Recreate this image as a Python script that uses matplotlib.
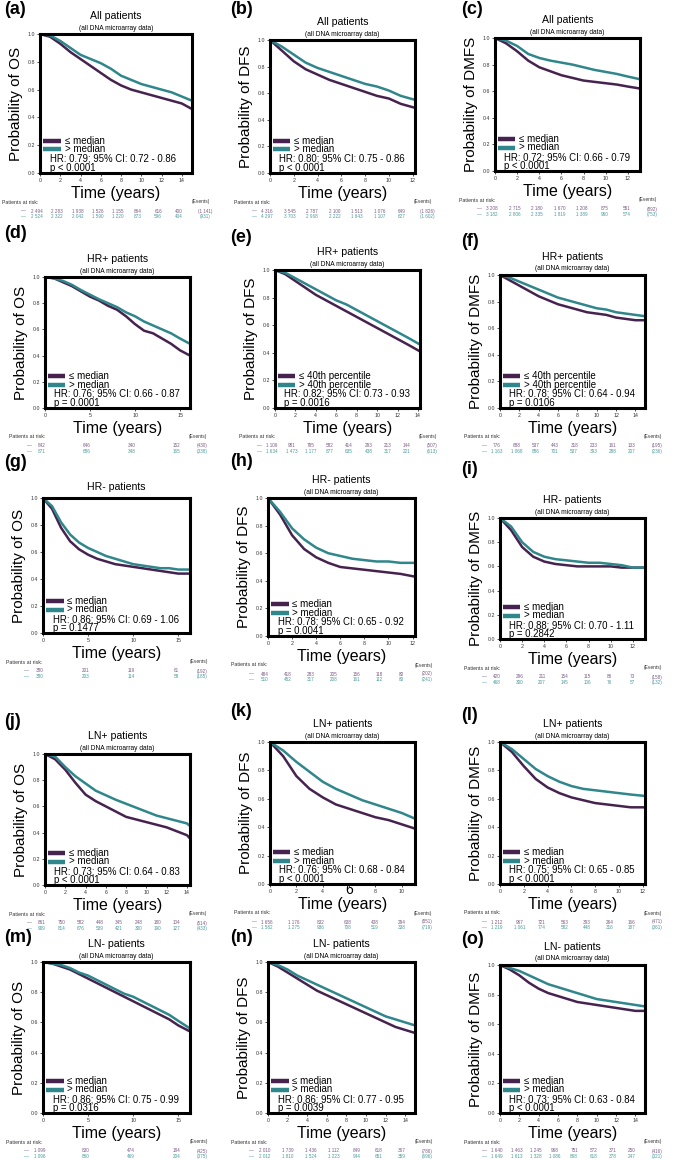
import matplotlib
matplotlib.use('Agg')
import matplotlib.pyplot as plt

plt.rcParams['font.family'] = ['Liberation Sans', 'DejaVu Sans']

LOW_C = '#46234f'
HIGH_C = '#2f878b'
LOW_TXT = '#7b5b86'
HIGH_TXT = '#4b9a9d'

W, H = 685, 1160

MEDIAN = ['\u2264 median', '> median']
PCT40 = ['\u2264 40th percentile', '> 40th percentile']

# ---- survival values read per year (t in years) ----
a_t = [0, 1, 2, 3, 4, 5, 6, 7, 8, 9, 10, 11, 12, 13, 14, 15]
a_low = [1.0, 0.98, 0.93, 0.87, 0.82, 0.77, 0.72, 0.67, 0.63, 0.60, 0.58, 0.56, 0.54, 0.52, 0.50, 0.46]
a_high = [1.0, 0.99, 0.95, 0.90, 0.85, 0.82, 0.79, 0.75, 0.70, 0.67, 0.64, 0.62, 0.60, 0.58, 0.55, 0.52]

b_t = [0, 1, 2, 3, 4, 5, 6, 7, 8, 9, 10, 11, 12.2]
b_low = [1.0, 0.92, 0.84, 0.78, 0.74, 0.70, 0.67, 0.64, 0.61, 0.58, 0.56, 0.52, 0.49]
b_high = [1.0, 0.95, 0.89, 0.83, 0.79, 0.76, 0.73, 0.70, 0.67, 0.65, 0.62, 0.58, 0.55]

c_t = [0, 1, 2, 3, 4, 5, 6, 7, 8, 9, 10, 11, 12, 13.1]
c_low = [1.0, 0.96, 0.90, 0.83, 0.78, 0.75, 0.72, 0.70, 0.68, 0.67, 0.66, 0.65, 0.635, 0.62]
c_high = [1.0, 0.98, 0.94, 0.88, 0.85, 0.83, 0.815, 0.80, 0.78, 0.76, 0.745, 0.73, 0.71, 0.69]

d_t = [0, 1, 2, 3, 4, 5, 6, 7, 8, 9, 10, 11, 12, 13, 14, 15, 16.1]
d_low = [1.0, 0.99, 0.96, 0.93, 0.89, 0.85, 0.82, 0.78, 0.75, 0.70, 0.64, 0.59, 0.57, 0.53, 0.49, 0.44, 0.40]
d_high = [1.0, 0.99, 0.97, 0.94, 0.90, 0.865, 0.83, 0.80, 0.77, 0.73, 0.70, 0.66, 0.63, 0.60, 0.57, 0.53, 0.49]

e_t = [0, 1, 2, 3, 4, 5, 6, 7, 8, 9, 10, 11, 12, 13, 14.2]
e_low = [1.0, 0.97, 0.92, 0.87, 0.82, 0.78, 0.74, 0.70, 0.66, 0.62, 0.58, 0.54, 0.50, 0.46, 0.41]
e_high = [1.0, 0.98, 0.94, 0.90, 0.86, 0.82, 0.78, 0.75, 0.71, 0.67, 0.63, 0.59, 0.55, 0.51, 0.46]

f_t = [0, 1, 2, 3, 4, 5, 6, 7, 8, 9, 10, 11, 12, 13, 14, 15]
f_low = [1.0, 0.96, 0.92, 0.88, 0.84, 0.81, 0.78, 0.76, 0.74, 0.72, 0.71, 0.70, 0.68, 0.67, 0.66, 0.66]
f_high = [1.0, 0.98, 0.95, 0.92, 0.89, 0.86, 0.83, 0.81, 0.79, 0.77, 0.75, 0.74, 0.72, 0.71, 0.70, 0.69]

g_t = [0, 1, 2, 3, 4, 5, 6, 7, 8, 9, 10, 11, 12, 13, 14, 15, 16.3]
g_low = [1.0, 0.92, 0.78, 0.68, 0.62, 0.58, 0.55, 0.53, 0.51, 0.50, 0.49, 0.48, 0.47, 0.46, 0.45, 0.44, 0.44]
g_high = [1.0, 0.94, 0.82, 0.73, 0.67, 0.63, 0.60, 0.57, 0.55, 0.53, 0.51, 0.50, 0.49, 0.48, 0.48, 0.47, 0.47]

h_t = [0, 1, 2, 3, 4, 5, 6, 7, 8, 9, 10, 11, 12.2]
h_low = [1.0, 0.88, 0.73, 0.63, 0.57, 0.53, 0.50, 0.49, 0.48, 0.47, 0.46, 0.45, 0.43]
h_high = [1.0, 0.90, 0.78, 0.70, 0.64, 0.60, 0.58, 0.56, 0.55, 0.54, 0.54, 0.53, 0.53]

i_t = [0, 1, 2, 3, 4, 5, 6, 7, 8, 9, 10, 11, 12, 13.1]
i_low = [1.0, 0.90, 0.76, 0.68, 0.64, 0.62, 0.61, 0.60, 0.60, 0.60, 0.60, 0.59, 0.59, 0.59]
i_high = [1.0, 0.93, 0.80, 0.72, 0.68, 0.66, 0.65, 0.64, 0.63, 0.63, 0.62, 0.61, 0.59, 0.59]

j_t = [0, 1, 2, 3, 4, 5, 6, 7, 8, 9, 10, 11, 12, 13, 14, 14.3]
j_low = [1.0, 0.96, 0.88, 0.78, 0.69, 0.64, 0.60, 0.56, 0.52, 0.50, 0.48, 0.46, 0.44, 0.41, 0.38, 0.355]
j_high = [1.0, 0.98, 0.90, 0.83, 0.775, 0.72, 0.685, 0.65, 0.62, 0.59, 0.56, 0.53, 0.51, 0.49, 0.47, 0.45]

k_t = [0, 1, 2, 3, 4, 5, 6, 7, 8, 9, 10, 11]
k_low = [1.0, 0.90, 0.76, 0.67, 0.61, 0.56, 0.53, 0.50, 0.47, 0.45, 0.42, 0.39]
k_high = [1.0, 0.94, 0.86, 0.79, 0.72, 0.67, 0.63, 0.59, 0.56, 0.53, 0.50, 0.46]

l_t = [0, 1, 2, 3, 4, 5, 6, 7, 8, 9, 10, 11, 12.2]
l_low = [1.0, 0.93, 0.83, 0.74, 0.68, 0.64, 0.61, 0.59, 0.57, 0.56, 0.55, 0.54, 0.54]
l_high = [1.0, 0.95, 0.88, 0.81, 0.76, 0.72, 0.69, 0.67, 0.66, 0.65, 0.64, 0.63, 0.62]

m_t = [0, 1, 2, 3, 4, 5, 6, 7, 8, 9, 10, 11, 12, 13, 14, 15, 16.3]
m_low = [1.0, 0.99, 0.97, 0.95, 0.92, 0.89, 0.86, 0.83, 0.80, 0.77, 0.74, 0.71, 0.68, 0.65, 0.62, 0.58, 0.54]
m_high = [1.0, 0.99, 0.98, 0.96, 0.93, 0.91, 0.88, 0.85, 0.82, 0.79, 0.77, 0.74, 0.71, 0.68, 0.65, 0.61, 0.56]

n_t = [0, 1, 2, 3, 4, 5, 6, 7, 8, 9, 10, 11, 12, 13, 14, 15]
n_low = [1.0, 0.97, 0.93, 0.89, 0.85, 0.81, 0.78, 0.75, 0.72, 0.69, 0.66, 0.63, 0.60, 0.57, 0.55, 0.53]
n_high = [1.0, 0.98, 0.95, 0.91, 0.88, 0.85, 0.82, 0.79, 0.76, 0.73, 0.70, 0.67, 0.64, 0.62, 0.60, 0.58]

o_t = [0, 1, 2, 3, 4, 5, 6, 7, 8, 9, 10, 11, 12, 13, 14, 15]
o_low = [1.0, 0.97, 0.93, 0.88, 0.84, 0.81, 0.79, 0.77, 0.75, 0.74, 0.73, 0.72, 0.71, 0.70, 0.69, 0.69]
o_high = [1.0, 0.98, 0.96, 0.93, 0.90, 0.87, 0.85, 0.83, 0.81, 0.79, 0.77, 0.76, 0.75, 0.74, 0.73, 0.72]

# ---- patients at risk (low row, high row) and events ----
a_risk = [['2 494', '2 283', '1 938', '1 526', '1 155', '864', '616', '400'],
          ['2 524', '2 322', '2 042', '1 590', '1 220', '873', '596', '404']]
a_ev = ['(1 141)', '(931)']
b_risk = [['4 316', '3 545', '2 787', '2 100', '1 513', '1 076', '649'],
          ['4 297', '3 703', '2 968', '2 222', '1 643', '1 107', '627']]
b_ev = ['(1 826)', '(1 602)']
c_risk = [['3 208', '2 715', '2 180', '1 670', '1 208', '875', '551'],
          ['3 182', '2 806', '2 335', '1 819', '1 389', '960', '574']]
c_ev = ['(892)', '(753)']
d_risk = [['842', '646', '340', '152'], ['871', '686', '348', '165']]
d_ev = ['(430)', '(338)']
e_risk = [['1 109', '981', '795', '582', '414', '293', '213', '144'],
          ['1 634', '1 473', '1 177', '877', '635', '438', '317', '221']]
e_ev = ['(507)', '(613)']
f_risk = [['776', '688', '537', '443', '318', '233', '161', '133'],
          ['1 163', '1 068', '886', '701', '537', '393', '288', '207']]
f_ev = ['(195)', '(236)']
g_risk = [['380', '201', '119', '61'], ['380', '203', '114', '58']]
g_ev = ['(192)', '(185)']
h_risk = [['484', '418', '283', '205', '156', '118', '80'],
          ['510', '452', '317', '208', '161', '112', '80']]
h_ev = ['(202)', '(241)']
i_risk = [['420', '296', '211', '154', '115', '86', '73'],
          ['468', '300', '207', '145', '106', '76', '57']]
i_ev = ['(158)', '(132)']
j_risk = [['861', '750', '582', '448', '345', '248', '180', '104'],
          ['909', '814', '676', '539', '421', '300', '190', '127']]
j_ev = ['(514)', '(433)']
k_risk = [['1 656', '1 176', '832', '638', '438', '294'],
          ['1 582', '1 275', '936', '708', '519', '338']]
k_ev = ['(851)', '(719)']
l_risk = [['1 212', '967', '721', '563', '393', '264', '166'],
          ['1 219', '1 061', '774', '582', '448', '316', '187']]
l_ev = ['(471)', '(361)']
m_risk = [['1 099', '830', '474', '184'], ['1 096', '860', '469', '204']]
m_ev = ['(425)', '(375)']
n_risk = [['2 010', '1 739', '1 436', '1 112', '849', '618', '367'],
          ['2 012', '1 810', '1 524', '1 223', '944', '651', '359']]
n_ev = ['(786)', '(696)']
o_risk = [['1 640', '1 463', '1 245', '968', '751', '572', '371', '250'],
          ['1 649', '1 613', '1 328', '1 086', '868', '618', '378', '247']]
o_ev = ['(416)', '(321)']

stats = {
    'a': ('HR: 0.79; 95% CI: 0.72 - 0.86', 'p < 0.0001'),
    'b': ('HR: 0.80; 95% CI: 0.75 - 0.86', 'p < 0.0001'),
    'c': ('HR: 0.72; 95% CI: 0.66 - 0.79', 'p < 0.0001'),
    'd': ('HR: 0.76; 95% CI: 0.66 - 0.87', 'p = 0.0001'),
    'e': ('HR: 0.82; 95% CI: 0.73 - 0.93', 'p = 0.0016'),
    'f': ('HR: 0.78; 95% CI: 0.64 - 0.94', 'p = 0.0106'),
    'g': ('HR: 0.86; 95% CI: 0.69 - 1.06', 'p = 0.1477'),
    'h': ('HR: 0.78; 95% CI: 0.65 - 0.92', 'p = 0.0041'),
    'i': ('HR: 0.88; 95% CI: 0.70 - 1.11', 'p = 0.2842'),
    'j': ('HR: 0.73; 95% CI: 0.64 - 0.83', 'p < 0.0001'),
    'k': ('HR: 0.76; 95% CI: 0.68 - 0.84', 'p < 0.0001'),
    'l': ('HR: 0.75; 95% CI: 0.65 - 0.85', 'p < 0.0001'),
    'm': ('HR: 0.86; 95% CI: 0.75 - 0.99', 'p = 0.0316'),
    'n': ('HR: 0.86; 95% CI: 0.77 - 0.95', 'p = 0.0039'),
    'o': ('HR: 0.73; 95% CI: 0.63 - 0.84', 'p < 0.0001'),
}

ticks2 = [0, 2, 4, 6, 8, 10, 12, 14]
ticks5 = [0, 5, 10, 15]

# panel: key, title, subtitle, ylabel, box(l,t,r,b px), xmax, xticks, t, low, high, legend, risk, events, label(x,y)
panels = [
    ('a', 'All patients', True, 'OS', (40, 34, 192, 173), 15, ticks2, a_t, a_low, a_high, MEDIAN, a_risk, a_ev, (2, 10)),
    ('b', 'All patients', True, 'DFS', (270, 40, 415, 173), 12.2, ticks2[:7], b_t, b_low, b_high, MEDIAN, b_risk, b_ev, (228, 10)),
    ('c', 'All patients', True, 'DMFS', (495, 38, 640, 171), 13.1, ticks2[:7], c_t, c_low, c_high, MEDIAN, c_risk, c_ev, (459, 10)),
    ('d', 'HR+ patients', True, 'OS', (45, 277, 190, 408), 16.1, ticks5, d_t, d_low, d_high, MEDIAN, d_risk, d_ev, (2, 233)),
    ('e', 'HR+ patients', True, 'DFS', (275, 270, 420, 408), 14.2, ticks2, e_t, e_low, e_high, PCT40, e_risk, e_ev, (228, 237)),
    ('f', 'HR+ patients', True, 'DMFS', (500, 275, 645, 408), 15, ticks2, f_t, f_low, f_high, PCT40, f_risk, f_ev, (459, 242)),
    ('g', 'HR- patients', False, 'OS', (43, 498, 190, 633), 16.3, ticks5, g_t, g_low, g_high, MEDIAN, g_risk, g_ev, (2, 463)),
    ('h', 'HR- patients', True, 'DFS', (268, 498, 415, 636), 12.2, ticks2[:7], h_t, h_low, h_high, MEDIAN, h_risk, h_ev, (228, 462)),
    ('i', 'HR- patients', True, 'DMFS', (500, 518, 645, 639), 13.1, ticks2[:7], i_t, i_low, i_high, MEDIAN, i_risk, i_ev, (459, 470)),
    ('j', 'LN+ patients', True, 'OS', (45, 754, 190, 885), 14.3, ticks2, j_t, j_low, j_high, MEDIAN, j_risk, j_ev, (2, 722)),
    ('k', 'LN+ patients', True, 'DFS', (270, 742, 415, 884), 11, ticks2[:6], k_t, k_low, k_high, MEDIAN, k_risk, k_ev, (228, 712)),
    ('l', 'LN+ patients', True, 'DMFS', (500, 742, 645, 884), 12.2, ticks2[:7], l_t, l_low, l_high, MEDIAN, l_risk, l_ev, (459, 715)),
    ('m', 'LN- patients', True, 'OS', (43, 962, 190, 1113), 16.3, ticks5, m_t, m_low, m_high, MEDIAN, m_risk, m_ev, (2, 938)),
    ('n', 'LN- patients', True, 'DFS', (268, 962, 415, 1113), 15, ticks2, n_t, n_low, n_high, MEDIAN, n_risk, n_ev, (228, 938)),
    ('o', 'LN- patients', True, 'DMFS', (500, 965, 645, 1113), 15, ticks2, o_t, o_low, o_high, MEDIAN, o_risk, o_ev, (459, 940)),
]

fig = plt.figure(figsize=(W / 100, H / 100), dpi=100)


def fx(x):
    return x / W


def fy(y):
    return 1 - y / H


for key, title, sub, ylab, box, xmax, xticks, t, low, high, leg, risk, ev, lab in panels:
    l, tp, r, b = box
    bh = b - tp
    ax = fig.add_axes([fx(l), fy(b), (r - l) / W, bh / H])
    ax.plot(t, low, color=LOW_C, lw=1.8, solid_capstyle='butt')
    ax.plot(t, high, color=HIGH_C, lw=1.8, solid_capstyle='butt')
    ax.set_xlim(0, xmax)
    ax.set_ylim(0, 1.0)
    ax.set_xticks(xticks)
    if key == 'k':
        # the "6" of this panel is drawn large in the original
        ax.set_xticklabels(['' if v == 6 else str(v) for v in xticks])
        ax.text(6, -0.045, '6', fontsize=10, ha='center', va='center', clip_on=False)
    ax.set_yticks([0, 0.2, 0.4, 0.6, 0.8, 1.0])
    ax.set_yticklabels(['0.0', '0.2', '0.4', '0.6', '0.8', '1.0'])
    ax.tick_params(labelsize=3.8, length=2, width=0.6, pad=1.5, colors='#333333')
    for s in ax.spines.values():
        s.set_linewidth(2.2)
        s.set_color('black')

    # legend + stats, placed in px above the bottom edge
    def yb(px):
        return px / bh
    for dy, c, txt in [(32, LOW_C, leg[0]), (23.5, HIGH_C, leg[1])]:
        ax.plot([0.02, 0.14], [yb(dy), yb(dy)], transform=ax.transAxes, color=c, lw=3.2, solid_capstyle='butt', clip_on=False)
        ax.text(0.165, yb(dy), txt, transform=ax.transAxes, fontsize=7.0, va='center', ha='left')
    hr, p = stats[key]
    ax.text(0.065, yb(14), hr, transform=ax.transAxes, fontsize=6.9, va='center', ha='left')
    ax.text(0.065, yb(5), p, transform=ax.transAxes, fontsize=6.9, va='center', ha='left')

    cx = (l + r) / 2
    fig.text(fx(2 + lab[0]), fy(lab[1]), '(%s)' % key, fontsize=13, fontweight='bold', va='center', ha='left')
    ttl_y = tp - 18 if sub else tp - 11
    fig.text(fx(cx), fy(ttl_y), title, fontsize=7.6, ha='center', va='center')
    if sub:
        fig.text(fx(cx), fy(tp - 6), '(all DNA microarray data)', fontsize=4.8, ha='center', va='center')
    fig.text(fx(l - 24), fy((tp + b) / 2), 'Probability of ' + ylab, fontsize=11, rotation=90, ha='center', va='center')
    fig.text(fx(cx), fy(b + 20.5), 'Time (years)', fontsize=11.5, ha='center', va='center')

    # risk table
    w = r - l
    fig.text(fx(l - 0.25 * w), fy(b + 29), 'Patients at risk:', fontsize=3.8, ha='left', va='center', color='#333333')
    fig.text(fx(l + 1.12 * w), fy(b + 29), '(Events)', fontsize=3.5, ha='right', va='center', color='#333333')
    for row, c, dy in [(risk[0], LOW_TXT, 38), (risk[1], HIGH_TXT, 43.5)]:
        fig.text(fx(l - 0.11 * w), fy(b + dy), '\u2014', fontsize=3.5, ha='center', va='center', color=c)
        n = len(row)
        for k, v in enumerate(row):
            pos = -0.02 + 0.93 * k / (n - 1)
            fig.text(fx(l + pos * w), fy(b + dy), v, fontsize=3.3, ha='center', va='center', color=c)
        fig.text(fx(l + 1.085 * w), fy(b + dy), ev[0] if c == LOW_TXT else ev[1], fontsize=3.3, ha='center', va='center', color=c)

fig.savefig('out.png', dpi=100)
